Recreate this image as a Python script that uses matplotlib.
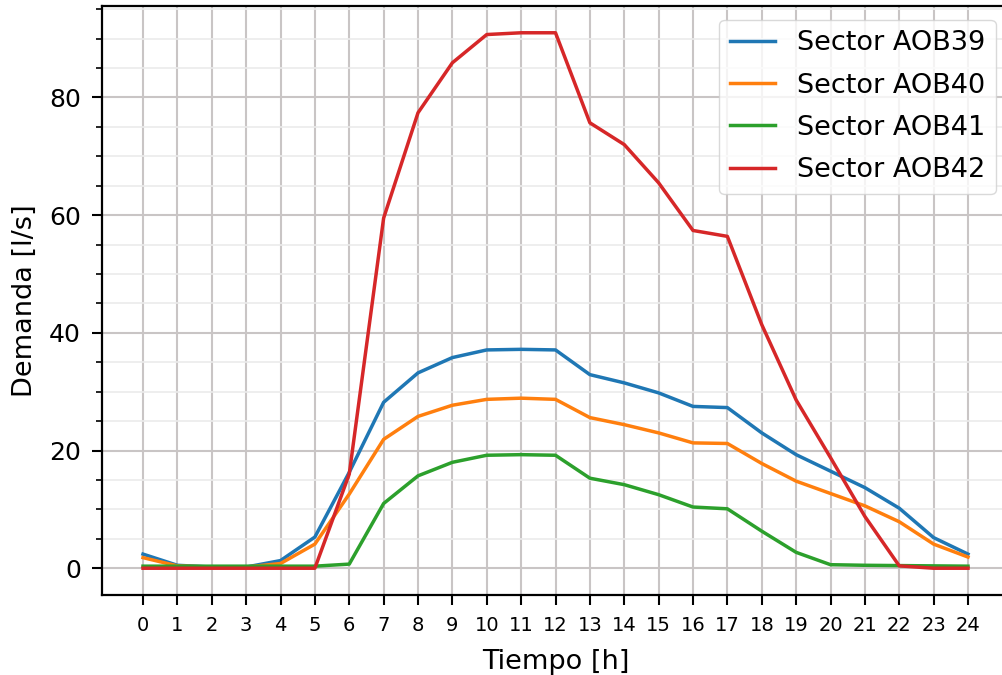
import matplotlib
matplotlib.use("Agg")
import matplotlib.pyplot as plt
from matplotlib.ticker import MultipleLocator

hours = list(range(25))
aob39 = [2.4, 0.5, 0.2, 0.2, 1.3, 5.3, 16.3, 28.2, 33.2, 35.8, 37.1, 37.2, 37.1,
         32.9, 31.5, 29.8, 27.5, 27.3, 23.0, 19.3, 16.5, 13.7, 10.2, 5.2, 2.4]
aob40 = [1.8, 0.4, 0.2, 0.2, 0.8, 4.1, 12.6, 21.9, 25.8, 27.7, 28.7, 28.9, 28.7,
         25.6, 24.4, 23.0, 21.3, 21.2, 17.8, 14.8, 12.7, 10.6, 7.9, 4.1, 1.9]
aob41 = [0.35, 0.35, 0.35, 0.35, 0.35, 0.35, 0.7, 11.0, 15.7, 18.0, 19.2, 19.3, 19.2,
         15.3, 14.2, 12.5, 10.4, 10.1, 6.3, 2.7, 0.6, 0.5, 0.45, 0.4, 0.35]
aob42 = [0.0, 0.0, 0.0, 0.0, 0.0, 0.0, 16.0, 59.5, 77.4, 85.9, 90.7, 91.0, 91.0,
         75.7, 72.0, 65.5, 57.4, 56.4, 41.4, 28.6, 18.8, 8.8, 0.4, 0.0, 0.0]
series = [("Sector AOB39", aob39, "#1f77b4"),
          ("Sector AOB40", aob40, "#ff7f0e"),
          ("Sector AOB41", aob41, "#2ca02c"),
          ("Sector AOB42", aob42, "#d62728")]

fig = plt.figure(figsize=(10.03, 6.75), dpi=100)
ax = fig.add_axes([101.75 / 1003, 1 - 595 / 675, (1009.25 - 101.75) / 1003, (595 - 6) / 675])

for name, vals, col in series:
    ax.plot(hours, vals, color=col, lw=2.5, label=name)

ax.set_xticks(hours)
ax.yaxis.set_major_locator(MultipleLocator(20))
ax.yaxis.set_minor_locator(MultipleLocator(5))
ax.grid(which="major", color="#c9c5c5", lw=1.5)
ax.grid(which="minor", axis="y", color="#ebebeb", lw=1.2)
ax.set_axisbelow(True)

ax.tick_params(axis="x", labelsize=14, length=7, width=1.5, pad=8)
ax.tick_params(axis="y", which="major", labelsize=18, length=7, width=1.5, pad=8)
ax.tick_params(axis="y", which="minor", length=4, width=1.2)
for sp in ax.spines.values():
    sp.set_linewidth(1.6)
    sp.set_color("black")

ax.set_xlabel("Tiempo [h]", fontsize=19.5, labelpad=10)
ax.set_ylabel("Demanda [l/s]", fontsize=19.5, labelpad=8)

leg = ax.legend(loc="upper right", fontsize=19.5, handlelength=1.66,
                labelspacing=0.6)
leg.get_frame().set_edgecolor("#d0d0d0")

fig.savefig("out.png", dpi=100)
